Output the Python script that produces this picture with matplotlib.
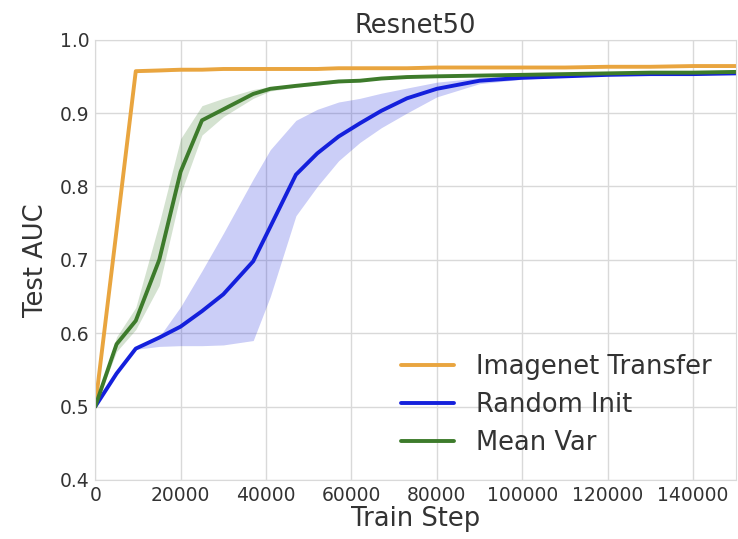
import numpy as np
import matplotlib
matplotlib.use("Agg")
import matplotlib.pyplot as plt
import seaborn as sns

sns.set_style("whitegrid")
plt.rcParams['font.family'] = ['DejaVu Sans']

# Train steps at which each run was evaluated
steps = [0, 5000, 9500, 15000, 20000, 25000, 30000, 37000, 41000, 47000, 52000,
         57000, 62000, 67000, 73000, 80000, 90000, 100000, 110000, 120000,
         130000, 140000, 150000]

imagenet_mean = [0.500, 0.740, 0.957, 0.958, 0.959, 0.959, 0.960, 0.960, 0.960, 0.960,
                 0.960, 0.961, 0.961, 0.961, 0.961, 0.962, 0.962, 0.962, 0.962, 0.963,
                 0.963, 0.964, 0.964]
imagenet_lo = [0.500, 0.738, 0.955, 0.956, 0.957, 0.958, 0.958, 0.959, 0.959, 0.959,
               0.959, 0.960, 0.960, 0.960, 0.960, 0.961, 0.961, 0.961, 0.961, 0.962,
               0.962, 0.963, 0.963]
imagenet_hi = [0.500, 0.742, 0.959, 0.960, 0.960, 0.960, 0.961, 0.961, 0.961, 0.961,
               0.961, 0.962, 0.962, 0.962, 0.962, 0.963, 0.963, 0.963, 0.963, 0.964,
               0.964, 0.965, 0.965]

random_mean = [0.500, 0.545, 0.579, 0.594, 0.609, 0.630, 0.653, 0.698, 0.745, 0.816,
               0.845, 0.868, 0.886, 0.903, 0.920, 0.933, 0.944, 0.948, 0.950, 0.952,
               0.953, 0.953, 0.954]
random_lo = [0.500, 0.545, 0.578, 0.582, 0.583, 0.583, 0.584, 0.590, 0.650, 0.760,
             0.800, 0.835, 0.860, 0.880, 0.900, 0.922, 0.940, 0.946, 0.949, 0.951,
             0.952, 0.952, 0.953]
random_hi = [0.500, 0.545, 0.580, 0.595, 0.636, 0.685, 0.736, 0.810, 0.850, 0.890,
             0.905, 0.915, 0.920, 0.927, 0.934, 0.942, 0.948, 0.951, 0.952, 0.953,
             0.954, 0.954, 0.955]

meanvar_mean = [0.500, 0.585, 0.617, 0.700, 0.820, 0.890, 0.905, 0.926, 0.933, 0.937,
                0.940, 0.943, 0.944, 0.947, 0.949, 0.950, 0.951, 0.952, 0.953, 0.954,
                0.955, 0.955, 0.956]
meanvar_lo = [0.500, 0.575, 0.605, 0.665, 0.790, 0.870, 0.895, 0.920, 0.930, 0.935,
              0.938, 0.941, 0.943, 0.946, 0.948, 0.949, 0.950, 0.951, 0.952, 0.953,
              0.954, 0.954, 0.955]
meanvar_hi = [0.500, 0.595, 0.635, 0.750, 0.865, 0.910, 0.920, 0.932, 0.936, 0.939,
              0.942, 0.945, 0.946, 0.948, 0.950, 0.951, 0.952, 0.953, 0.954, 0.955,
              0.956, 0.956, 0.957]

series = [
    ("Imagenet Transfer", imagenet_mean, imagenet_lo, imagenet_hi, "#E9A53F"),
    ("Random Init", random_mean, random_lo, random_hi, "#1420DC"),
    ("Mean Var", meanvar_mean, meanvar_lo, meanvar_hi, "#3D7B2B"),
]

fig = plt.figure(figsize=(7.38, 5.39), dpi=100)
ax = fig.add_axes([0.129, 0.1095, 0.868, 0.817])

for name, mean, lo, hi, color in series:
    ax.fill_between(steps, lo, hi, color=color, alpha=0.22, linewidth=0)
    ax.plot(steps, mean, color=color, linewidth=2.8, label=name)

text_color = "#333333"
ax.set_xlim(0, 150000)
ax.set_ylim(0.4, 1.0)
ax.set_xticks(np.arange(0, 150000, 20000))
ax.set_yticks(np.arange(0.4, 1.01, 0.1))
ax.tick_params(labelsize=13.5, colors=text_color, length=0, pad=4)
ax.set_title("Resnet50", fontsize=18.5, color=text_color, pad=5)
ax.set_xlabel("Train Step", fontsize=18.5, color=text_color, labelpad=1)
ax.set_ylabel("Test AUC", fontsize=18.5, color=text_color, labelpad=8)
ax.grid(color="#d9d9d9", linewidth=1)
for sp in ax.spines.values():
    sp.set_color("#d9d9d9")

leg = ax.legend(loc="lower right", fontsize=18.5, frameon=False,
                handlelength=2.06, handletextpad=0.85, borderaxespad=0.53,
                labelspacing=0.47)
for t in leg.get_texts():
    t.set_color(text_color)

fig.savefig("out.png", dpi=100)
